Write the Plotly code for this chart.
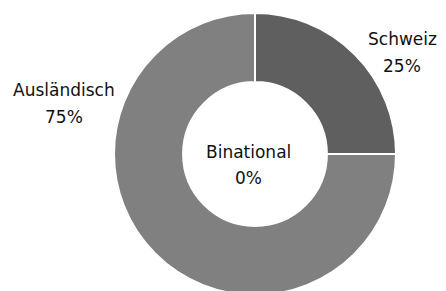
import plotly.graph_objects as go

categories = ["Schweiz", "Ausländisch", "Binational"]
values = [25, 75, 0]
colors_map = {"Schweiz": "#5f5f5f", "Ausländisch": "#808080", "Binational": "#a0a0a0"}

W, H = 446, 299
total = sum(values)
pct = [round(v / total * 100) for v in values]

pie_cats = [c for c, v in zip(categories, values) if v > 0]
pie_vals = [v for v in values if v > 0]

fig = go.Figure(go.Pie(
    labels=pie_cats,
    values=pie_vals,
    hole=0.51,
    sort=False,
    direction="clockwise",
    rotation=0,
    textinfo="none",
    marker=dict(colors=[colors_map[c] for c in pie_cats], line=dict(color="white", width=2)),
    domain=dict(x=[114 / W, 396 / W], y=[4 / H, 1 - 13 / H]),
    showlegend=False,
    hoverinfo="label+percent",
))

# (x, y of name line, y of percent line) in pixels
label_pos = {
    "Schweiz": (402, 39, 66),
    "Ausländisch": (64, 90, 117),
    "Binational": (249, 152, 178),
}
font = dict(family="DejaVu Sans", size=17, color="#111111")
for c, p in zip(categories, pct):
    x, y1, y2 = label_pos[c]
    for txt, y in ((c, y1), (f"{p}%", y2)):
        fig.add_annotation(
            x=x / W, y=1 - y / H, xref="paper", yref="paper",
            text=txt, showarrow=False, font=font,
            xanchor="center", yanchor="middle", align="center",
        )

fig.update_layout(
    width=W, height=H,
    margin=dict(l=0, r=0, t=0, b=0),
    paper_bgcolor="white", plot_bgcolor="white",
)
fig.write_html(
    "out.html",
    config={"displayModeBar": False},
    post_script="document.body.style.margin='0';document.body.style.overflow='hidden';document.documentElement.style.overflow='hidden';",
)
